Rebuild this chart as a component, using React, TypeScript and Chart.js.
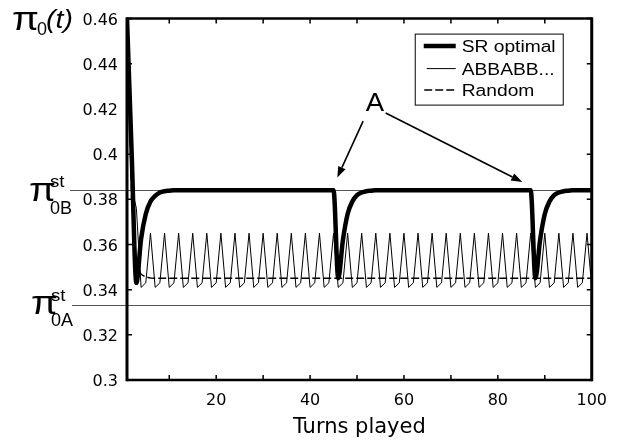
import React, { useEffect, useRef } from "react";
import { Chart, registerables } from "chart.js";

Chart.register(...registerables);

// ---------- data ----------
const turns = Array.from({ length: 100 }, (_, i) => i + 1);

const srOptimal = [
  0.46, 0.40, 0.343, 0.3625, 0.3735, 0.379, 0.3815, 0.383, 0.3836, 0.3838,
  0.384, 0.384, 0.384, 0.384, 0.384, 0.384, 0.384, 0.384, 0.384, 0.384,
  0.384, 0.384, 0.384, 0.384, 0.384, 0.384, 0.384, 0.384, 0.384, 0.384,
  0.384, 0.384, 0.384, 0.384, 0.384, 0.384, 0.384, 0.384, 0.384, 0.384,
  0.384, 0.384, 0.384, 0.384, 0.384,
  0.345, 0.362, 0.3735, 0.379, 0.3818, 0.383, 0.3836, 0.3838,
  0.384, 0.384, 0.384, 0.384, 0.384, 0.384, 0.384, 0.384, 0.384, 0.384,
  0.384, 0.384, 0.384, 0.384, 0.384, 0.384, 0.384, 0.384, 0.384, 0.384,
  0.384, 0.384, 0.384, 0.384, 0.384, 0.384, 0.384, 0.384, 0.384, 0.384,
  0.384, 0.384, 0.384, 0.384,
  0.345, 0.362, 0.3735, 0.379, 0.3818, 0.383, 0.3836, 0.3838,
  0.384, 0.384, 0.384, 0.384, 0.384,
];

const abbabb = [
  0.46, 0.385, 0.376,
  0.341, 0.343, 0.365, 0.341, 0.343, 0.365, 0.341, 0.343, 0.365, 0.341, 0.343, 0.365,
  0.341, 0.343, 0.365, 0.341, 0.343, 0.365, 0.341, 0.343, 0.365, 0.341, 0.343, 0.365,
  0.341, 0.343, 0.365, 0.341, 0.343, 0.365, 0.341, 0.343, 0.365, 0.341, 0.343, 0.365,
  0.341, 0.343, 0.365, 0.341, 0.343, 0.365, 0.341, 0.343, 0.365, 0.341, 0.343, 0.365,
  0.341, 0.343, 0.365, 0.341, 0.343, 0.365, 0.341, 0.343, 0.365, 0.341, 0.343, 0.365,
  0.341, 0.343, 0.365, 0.341, 0.343, 0.365, 0.341, 0.343, 0.365, 0.341, 0.343, 0.365,
  0.341, 0.343, 0.365, 0.341, 0.343, 0.365, 0.341, 0.343, 0.365, 0.341, 0.343, 0.365,
  0.341, 0.343, 0.365, 0.341, 0.343, 0.365, 0.341, 0.343, 0.365, 0.341, 0.343, 0.365,
  0.341,
];

const randomSeq = [
  0.46, 0.38, 0.351, 0.3468, 0.3456, 0.3452,
  0.345, 0.345, 0.345, 0.345, 0.345, 0.345, 0.345, 0.345, 0.345, 0.345,
  0.345, 0.345, 0.345, 0.345, 0.345, 0.345, 0.345, 0.345, 0.345, 0.345,
  0.345, 0.345, 0.345, 0.345, 0.345, 0.345, 0.345, 0.345, 0.345, 0.345,
  0.345, 0.345, 0.345, 0.345, 0.345, 0.345, 0.345, 0.345, 0.345, 0.345,
  0.345, 0.345, 0.345, 0.345, 0.345, 0.345, 0.345, 0.345, 0.345, 0.345,
  0.345, 0.345, 0.345, 0.345, 0.345, 0.345, 0.345, 0.345, 0.345, 0.345,
  0.345, 0.345, 0.345, 0.345, 0.345, 0.345, 0.345, 0.345, 0.345, 0.345,
  0.345, 0.345, 0.345, 0.345, 0.345, 0.345, 0.345, 0.345, 0.345, 0.345,
  0.345, 0.345, 0.345, 0.345, 0.345, 0.345, 0.345, 0.345, 0.345, 0.345,
  0.345, 0.345, 0.345, 0.345,
];

const seriesNames = ["SR optimal", "ABBABB...", "Random"];

const xTickValues = [10, 20, 30, 40, 50, 60, 70, 80, 90, 100];
const xLabelValues = [20, 40, 60, 80, 100];
const yTickValues = [0.3, 0.32, 0.34, 0.36, 0.38, 0.4, 0.42, 0.44, 0.46];

const pi0B = 0.384;
const pi0A = 0.333;

// annotation "A" (data coordinates)
const annotLabel = { t: 53.8, v: 0.4222 };
const annotArrows = [
  { from: { t: 51.3, v: 0.4146 }, to: { t: 45.8, v: 0.3896 } },
  { from: { t: 56.1, v: 0.4182 }, to: { t: 85.2, v: 0.3877 } },
];

const SANS = "'Liberation Sans', Arial, Helvetica, sans-serif";
const TICKFONT = "'DejaVu Sans', sans-serif";

function stretchText(ctx: CanvasRenderingContext2D, text: string, x: number, y: number, font: string, sx = 1.2) {
  ctx.save();
  ctx.font = font;
  ctx.translate(x, y);
  ctx.scale(sx, 1);
  ctx.fillText(text, 0, 0);
  ctx.restore();
}

function drawArrow(ctx: CanvasRenderingContext2D, x1: number, y1: number, x2: number, y2: number) {
  const ang = Math.atan2(y2 - y1, x2 - x1);
  const hl = 11, hw = 4;
  const bx = x2 - hl * Math.cos(ang);
  const by = y2 - hl * Math.sin(ang);
  ctx.beginPath();
  ctx.moveTo(x1, y1);
  ctx.lineTo(bx, by);
  ctx.stroke();
  ctx.beginPath();
  ctx.moveTo(x2, y2);
  ctx.lineTo(bx + hw * Math.sin(ang), by - hw * Math.cos(ang));
  ctx.lineTo(bx - hw * Math.sin(ang), by + hw * Math.cos(ang));
  ctx.closePath();
  ctx.fill();
}

const decorPlugin = {
  id: "decor",
  beforeDatasetsDraw(chart: any) {
    const { ctx, chartArea: a, scales } = chart;
    const y = scales.y;
    ctx.save();
    ctx.strokeStyle = "#555";
    ctx.lineWidth = 1;
    const lines = [
      { v: pi0B, from: 70 },
      { v: pi0A, from: 72 },
    ];
    for (const l of lines) {
      const py = Math.round(y.getPixelForValue(l.v)) + 0.5;
      ctx.beginPath();
      ctx.moveTo(l.from, py);
      ctx.lineTo(a.right, py);
      ctx.stroke();
    }
    ctx.restore();
  },
  afterDatasetsDraw(chart: any) {
    const { ctx, chartArea: a, scales } = chart;
    const x = scales.x, y = scales.y;
    ctx.save();
    ctx.strokeStyle = "#000";
    ctx.fillStyle = "#000";

    // inward ticks
    ctx.lineWidth = 1.5;
    const tl = 5;
    for (const v of xTickValues) {
      const px = x.getPixelForValue(v);
      ctx.beginPath();
      ctx.moveTo(px, a.bottom);
      ctx.lineTo(px, a.bottom - tl);
      ctx.moveTo(px, a.top);
      ctx.lineTo(px, a.top + tl);
      ctx.stroke();
    }
    for (const v of yTickValues) {
      const py = y.getPixelForValue(v);
      ctx.beginPath();
      ctx.moveTo(a.left, py);
      ctx.lineTo(a.left + tl, py);
      ctx.moveTo(a.right, py);
      ctx.lineTo(a.right - tl, py);
      ctx.stroke();
    }

    // frame
    ctx.lineWidth = 3;
    ctx.beginPath();
    ctx.moveTo(a.left, a.top - 1.25);
    ctx.lineTo(a.left, a.bottom + 1.25);
    ctx.moveTo(a.right, a.top - 1.25);
    ctx.lineTo(a.right, a.bottom + 1.25);
    ctx.stroke();
    ctx.lineWidth = 2.5;
    ctx.beginPath();
    ctx.moveTo(a.left, a.top);
    ctx.lineTo(a.right, a.top);
    ctx.moveTo(a.left, a.bottom);
    ctx.lineTo(a.right, a.bottom);
    ctx.stroke();

    // legend
    const bx = a.right - 176.5, by = a.top + 15.5, bw = 148, bh = 71;
    ctx.fillStyle = "#fff";
    ctx.fillRect(bx, by, bw, bh);
    ctx.fillStyle = "#000";
    ctx.lineWidth = 1;
    ctx.strokeRect(bx, by, bw, bh);
    const rows = [
      { w: 4.5, dash: [] as number[], ly: by + 12, x0: bx + 8.5 },
      { w: 1, dash: [] as number[], ly: by + 34.5, x0: bx + 11.5 },
      { w: 1.5, dash: [8, 3], ly: by + 56, x0: bx + 9 },
    ];
    rows.forEach((r, i) => {
      ctx.save();
      ctx.lineWidth = r.w;
      ctx.setLineDash(r.dash);
      ctx.beginPath();
      ctx.moveTo(r.x0, r.ly);
      ctx.lineTo(bx + 40.5, r.ly);
      ctx.stroke();
      ctx.restore();
      ctx.textBaseline = "alphabetic";
      ctx.textAlign = "left";
      stretchText(ctx, seriesNames[i], bx + 46.5, r.ly + 6, `16px ${SANS}`, 1.2);
    });

    // annotation A
    ctx.lineWidth = 1.6;
    ctx.textAlign = "center";
    ctx.textBaseline = "middle";
    ctx.font = `25px ${SANS}`;
    ctx.save();
    ctx.translate(x.getPixelForValue(annotLabel.t), y.getPixelForValue(annotLabel.v));
    ctx.scale(1.1, 1);
    ctx.fillText("A", 0, 0);
    ctx.restore();
    for (const ar of annotArrows) {
      drawArrow(
        ctx,
        x.getPixelForValue(ar.from.t), y.getPixelForValue(ar.from.v),
        x.getPixelForValue(ar.to.t), y.getPixelForValue(ar.to.v)
      );
    }

    // math labels
    ctx.textAlign = "left";
    ctx.textBaseline = "alphabetic";
    // pi_0(t)
    stretchText(ctx, "\u03C0", 12, 30, `34px ${SANS}`, 1.15);
    stretchText(ctx, "0", 37, 35, `19px ${SANS}`, 0.95);
    stretchText(ctx, "(t)", 46, 28, `italic 26px ${SANS}`, 1.1);
    // pi_0B^st
    const pB = y.getPixelForValue(pi0B);
    stretchText(ctx, "\u03C0", 29, pB + 10.5, `34px ${SANS}`, 1.15);
    stretchText(ctx, "st", 50, pB - 3.5, `17px ${SANS}`, 1.1);
    stretchText(ctx, "0B", 50, pB + 23.5, `18px ${SANS}`, 1.0);
    // pi_0A^st
    const pA = y.getPixelForValue(pi0A);
    stretchText(ctx, "\u03C0", 31, pA + 9, `34px ${SANS}`, 1.15);
    stretchText(ctx, "st", 51, pA - 4.3, `17px ${SANS}`, 1.1);
    stretchText(ctx, "0A", 51, pA + 21, `18px ${SANS}`, 1.0);

    ctx.restore();
  },
};

function fmtY(v: number) {
  return String(Number(v.toFixed(2)));
}

export default function App() {
  const canvasRef = useRef<HTMLCanvasElement | null>(null);

  useEffect(() => {
    if (!canvasRef.current) return;
    const mk = (arr: number[]) => turns.map((t, i) => ({ x: t, y: arr[i] }));
    const chart = new Chart(canvasRef.current, {
      type: "line",
      data: {
        datasets: [
          {
            label: seriesNames[0],
            data: mk(srOptimal),
            borderColor: "#000",
            borderWidth: 4.5,
            pointRadius: 0,
            cubicInterpolationMode: "monotone",
            borderJoinStyle: "round",
            fill: false,
          },
          {
            label: seriesNames[1],
            data: mk(abbabb),
            borderColor: "#000",
            borderWidth: 1,
            pointRadius: 0,
            tension: 0,
            fill: false,
          },
          {
            label: seriesNames[2],
            data: mk(randomSeq),
            borderColor: "#000",
            borderWidth: 1.5,
            borderDash: [8, 3],
            pointRadius: 0,
            tension: 0,
            fill: false,
          },
        ],
      },
      options: {
        animation: false,
        responsive: false,
        devicePixelRatio: 1,
        layout: { padding: { left: 0, top: 10, right: 20, bottom: 0 } },
        plugins: {
          legend: { display: false },
          tooltip: { enabled: false },
        },
        scales: {
          x: {
            type: "linear",
            min: 1,
            max: 100,
            grid: { display: false, drawTicks: false },
            border: { display: false },
            afterBuildTicks: (s: any) => {
              s.ticks = xTickValues.map((v) => ({ value: v }));
            },
            afterFit: (s: any) => {
              s.height = 68;
            },
            ticks: {
              autoSkip: false,
              maxRotation: 0,
              padding: 11,
              color: "#000",
              font: { family: TICKFONT, size: 16 },
              callback: (v: any) => (xLabelValues.includes(Number(v)) ? String(v) : ""),
            },
            title: {
              display: true,
              text: "Turns played",
              color: "#000",
              font: { family: TICKFONT, size: 21 },
              padding: { top: 0, bottom: 8 },
            },
          },
          y: {
            type: "linear",
            min: 0.3,
            max: 0.46,
            grid: { display: false, drawTicks: false },
            border: { display: false },
            afterBuildTicks: (s: any) => {
              s.ticks = yTickValues.map((v) => ({ value: v }));
            },
            afterFit: (s: any) => {
              s.width = 127;
            },
            ticks: {
              autoSkip: false,
              padding: 9,
              labelOffset: 2,
              color: "#000",
              font: { family: TICKFONT, size: 16 },
              callback: (v: any) => fmtY(Number(v)),
            },
          },
        },
      },
      plugins: [decorPlugin],
    } as any);
    return () => chart.destroy();
  }, []);

  return (
    <div style={{ position: "absolute", left: 0, top: 0, width: 618, height: 448, background: "#fff" }}>
      <canvas ref={canvasRef} width={618} height={448} />
    </div>
  );
}
